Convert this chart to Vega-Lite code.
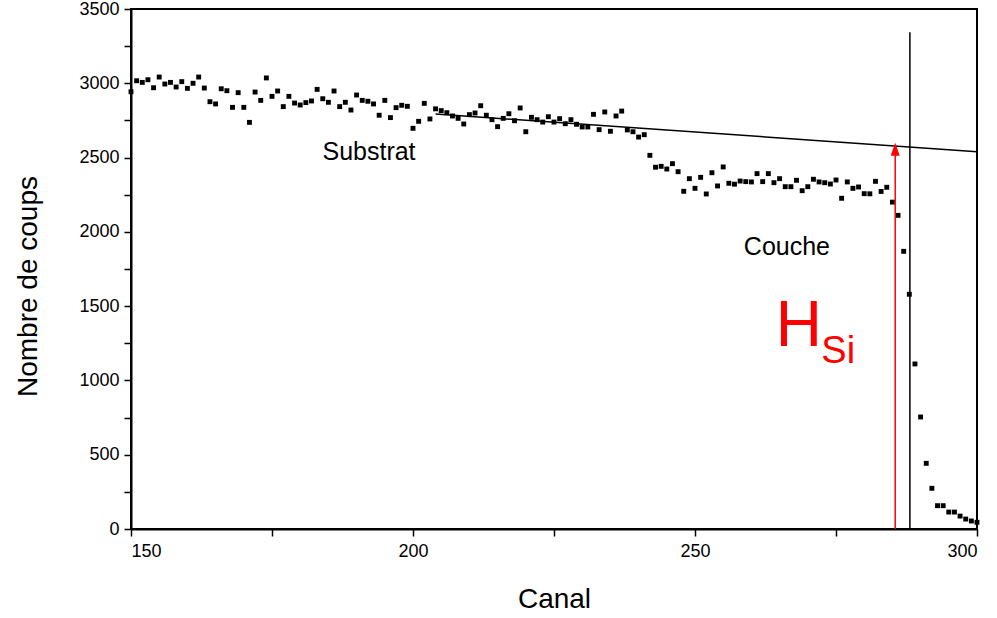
{
  "$schema": "https://vega.github.io/schema/vega-lite/v6.json",
  "width": 846,
  "height": 520,
  "autosize": "none",
  "padding": {"left": 131, "top": 9, "right": 20, "bottom": 89},
  "background": "white",
  "config": {
    "font": "Liberation Sans",
    "view": {"stroke": "black", "strokeWidth": 2},
    "axis": {"grid": false, "domainColor": "black", "domainWidth": 2, "tickColor": "black", "tickWidth": 1.5, "labelColor": "black", "titleColor": "black", "labelFont": "Liberation Sans", "titleFont": "Liberation Sans", "titleFontWeight": "normal", "labelFontSize": 18, "titleFontSize": 28, "format": "d"}
  },
  "datasets": {
    "spectre": [
      {"canal":150,"coups":2943},{"canal":151,"coups":3017},{"canal":152,"coups":3006},{"canal":153,"coups":3024},{"canal":154,"coups":2970},
      {"canal":155,"coups":3042},{"canal":156,"coups":2995},{"canal":157,"coups":3006},{"canal":158,"coups":2975},{"canal":159,"coups":3011},
      {"canal":160,"coups":2966},{"canal":161,"coups":3000},{"canal":162,"coups":3042},{"canal":163,"coups":2968},{"canal":164,"coups":2876},
      {"canal":165,"coups":2861},{"canal":166,"coups":2963},{"canal":167,"coups":2950},{"canal":168,"coups":2838},{"canal":169,"coups":2937},
      {"canal":170,"coups":2838},{"canal":171,"coups":2737},{"canal":172,"coups":2941},{"canal":173,"coups":2885},{"canal":174,"coups":3036},
      {"canal":175,"coups":2912},{"canal":176,"coups":2948},{"canal":177,"coups":2843},{"canal":178,"coups":2912},{"canal":179,"coups":2867},
      {"canal":180,"coups":2854},{"canal":181,"coups":2870},{"canal":182,"coups":2881},{"canal":183,"coups":2959},{"canal":184,"coups":2896},
      {"canal":185,"coups":2872},{"canal":186,"coups":2948},{"canal":187,"coups":2843},{"canal":188,"coups":2872},{"canal":189,"coups":2820},
      {"canal":190,"coups":2921},{"canal":191,"coups":2885},{"canal":192,"coups":2879},{"canal":193,"coups":2861},{"canal":194,"coups":2785},
      {"canal":195,"coups":2885},{"canal":196,"coups":2769},{"canal":197,"coups":2836},{"canal":198,"coups":2852},{"canal":199,"coups":2845},
      {"canal":200,"coups":2697},{"canal":201,"coups":2744},{"canal":202,"coups":2865},{"canal":203,"coups":2760},{"canal":204,"coups":2828},
      {"canal":205,"coups":2816},{"canal":206,"coups":2802},{"canal":207,"coups":2780},{"canal":208,"coups":2764},{"canal":209,"coups":2726},
      {"canal":210,"coups":2789},{"canal":211,"coups":2800},{"canal":212,"coups":2849},{"canal":213,"coups":2785},{"canal":214,"coups":2755},
      {"canal":215,"coups":2708},{"canal":216,"coups":2764},{"canal":217,"coups":2795},{"canal":218,"coups":2748},{"canal":219,"coups":2834},
      {"canal":220,"coups":2674},{"canal":221,"coups":2771},{"canal":222,"coups":2755},{"canal":223,"coups":2739},{"canal":224,"coups":2775},
      {"canal":225,"coups":2739},{"canal":226,"coups":2762},{"canal":227,"coups":2728},{"canal":228,"coups":2755},{"canal":229,"coups":2724},
      {"canal":230,"coups":2706},{"canal":231,"coups":2706},{"canal":232,"coups":2791},{"canal":233,"coups":2688},{"canal":234,"coups":2807},
      {"canal":235,"coups":2677},{"canal":236,"coups":2780},{"canal":237,"coups":2813},{"canal":238,"coups":2686},{"canal":239,"coups":2674},
      {"canal":240,"coups":2638},{"canal":241,"coups":2654},{"canal":242,"coups":2515},{"canal":243,"coups":2435},{"canal":244,"coups":2441},
      {"canal":245,"coups":2423},{"canal":246,"coups":2459},{"canal":247,"coups":2405},{"canal":248,"coups":2273},{"canal":249,"coups":2358},
      {"canal":250,"coups":2293},{"canal":251,"coups":2367},{"canal":252,"coups":2255},{"canal":253,"coups":2398},{"canal":254,"coups":2309},
      {"canal":255,"coups":2437},{"canal":256,"coups":2327},{"canal":257,"coups":2321},{"canal":258,"coups":2342},{"canal":259,"coups":2338},
      {"canal":260,"coups":2336},{"canal":261,"coups":2392},{"canal":262,"coups":2338},{"canal":263,"coups":2392},{"canal":264,"coups":2331},
      {"canal":265,"coups":2358},{"canal":266,"coups":2304},{"canal":267,"coups":2304},{"canal":268,"coups":2347},{"canal":269,"coups":2277},
      {"canal":270,"coups":2304},{"canal":271,"coups":2354},{"canal":272,"coups":2336},{"canal":273,"coups":2331},{"canal":274,"coups":2322},
      {"canal":275,"coups":2349},{"canal":276,"coups":2226},{"canal":277,"coups":2336},{"canal":278,"coups":2293},{"canal":279,"coups":2302},
      {"canal":280,"coups":2257},{"canal":281,"coups":2256},{"canal":282,"coups":2340},{"canal":283,"coups":2272},{"canal":284,"coups":2300},
      {"canal":285,"coups":2200},{"canal":286,"coups":2111},{"canal":287,"coups":1869},{"canal":288,"coups":1580},{"canal":289,"coups":1111},
      {"canal":290,"coups":754},{"canal":291,"coups":442},{"canal":292,"coups":274},{"canal":293,"coups":157},{"canal":294,"coups":157},
      {"canal":295,"coups":114},{"canal":296,"coups":114},{"canal":297,"coups":87},{"canal":298,"coups":67},{"canal":299,"coups":54},
      {"canal":300,"coups":45}
    ],
    "ajustement": [{"canal": 204, "coups": 2793}, {"canal": 300, "coups": 2540}],
    "bord": [{"canal": 288.1, "coups": 0, "haut": 3343}],
    "fleche": [{"canal": 285.5, "coups": 0, "haut": 2560}],
    "pointe": [{"canal": 285.5, "coups": 2556}],
    "textes": [
      {"canal": 192.2, "coups": 2537, "texte": "Substrat"},
      {"canal": 266.3, "coups": 1898, "texte": "Couche"}
    ],
    "h": [{"canal": 268.4, "coups": 1360, "texte": "H"}],
    "si": [{"canal": 275.4, "coups": 1191, "texte": "Si"}]
  },
  "encoding": {
    "x": {"field": "canal", "type": "quantitative", "scale": {"domain": [150, 300], "nice": false, "zero": false},
      "axis": {"title": "Canal", "values": [150, 175, 200, 225, 250, 275, 300], "labelExpr": "datum.value % 50 === 0 ? datum.label : ''", "tickSize": 7, "labelPadding": 6, "titlePadding": 25}},
    "y": {"field": "coups", "type": "quantitative", "scale": {"domain": [0, 3500], "nice": false},
      "axis": {"title": "Nombre de coups", "values": [0, 250, 500, 750, 1000, 1250, 1500, 1750, 2000, 2250, 2500, 2750, 3000, 3250, 3500], "labelExpr": "datum.value % 500 === 0 ? datum.label : ''", "tickSize": 7, "labelPadding": 5, "titlePadding": 36, "titleY": 277}}
  },
  "layer": [
    {"data": {"name": "spectre"}, "mark": {"type": "point", "shape": "square", "filled": true, "color": "black", "size": 24, "opacity": 1, "clip": false}},
    {"data": {"name": "ajustement"}, "mark": {"type": "line", "color": "black", "strokeWidth": 1.5}},
    {"data": {"name": "bord"}, "mark": {"type": "rule", "color": "black", "strokeWidth": 1.5}, "encoding": {"y2": {"field": "haut"}}},
    {"data": {"name": "fleche"}, "mark": {"type": "rule", "color": "#ff0000", "strokeWidth": 1.5}, "encoding": {"y2": {"field": "haut"}}},
    {"data": {"name": "pointe"}, "mark": {"type": "point", "shape": "M-0.7,1L0,-1L0.7,1Z", "filled": true, "color": "#ff0000", "size": 169, "opacity": 1}},
    {"data": {"name": "textes"}, "mark": {"type": "text", "fontSize": 25, "color": "black", "align": "center", "baseline": "middle"}, "encoding": {"text": {"field": "texte"}}},
    {"data": {"name": "h"}, "mark": {"type": "text", "fontSize": 64, "color": "#ff0000", "align": "center", "baseline": "middle"}, "encoding": {"text": {"field": "texte"}}},
    {"data": {"name": "si"}, "mark": {"type": "text", "fontSize": 38, "color": "#ff0000", "align": "center", "baseline": "middle"}, "encoding": {"text": {"field": "texte"}}}
  ]
}
